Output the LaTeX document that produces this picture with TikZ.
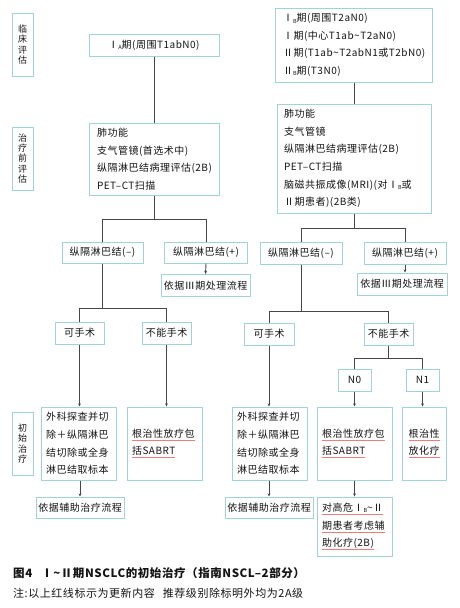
\documentclass[tikz,border=0pt]{standalone}
\usepackage{fontspec}
\setmainfont{Noto Sans CJK SC}[LetterSpace=5]
\usetikzlibrary{arrows.meta}
\definecolor{boxc}{RGB}{160,211,213}
\definecolor{linec}{RGB}{70,70,70}
\definecolor{txtc}{RGB}{20,20,20}
\definecolor{ulred}{RGB}{236,125,125}
\newcommand\sbs[1]{\raisebox{-0.25ex}{\fontsize{5.5}{5.5}\selectfont #1}}
\newcommand\rul[1]{\leavevmode\setbox0\hbox{#1}\rlap{\textcolor{ulred}{\rule[-3.2pt]{\wd0}{0.7pt}}}\box0}
\newcommand\tld{\textasciitilde}
\begin{document}
\begin{tikzpicture}[x=1pt,y=-1pt,
  bx/.style={draw=boxc,line width=1pt,fill=white,text=txtc,inner sep=0pt,
    font=\fontsize{10}{17.6}\selectfont,align=center},
  lbl/.style={bx,minimum width=21,font=\fontsize{9}{10.2}\selectfont},
  conn/.style={draw=linec,line width=0.9pt},
  arr/.style={conn,-{Stealth[length=3.2pt,width=2.8pt]}}]
\useasboundingbox (0,0) rectangle (459,608);

% side labels
\node[lbl,minimum height=63] (la) at (22.5,44.5) {临\\床\\评\\估};
\node[lbl,minimum height=63] (lb) at (22.5,158.5) {治\\疗\\前\\评\\估};
\node[lbl,minimum height=63] (lc) at (22.5,443.5) {初\\始\\治\\疗};

% left column
\node[bx,minimum width=130,minimum height=22] (L1) at (154,45) {Ⅰ\sbs{A}期(周围T1abN0)};
\node[bx,text width=114,inner xsep=8,minimum height=72,align=left] (Lpre) at (154,159)
  {肺功能\\支气管镜(首选术中)\\纵隔淋巴结病理评估(2B)\\PET–CT扫描};
\node[bx,minimum width=81,minimum height=21] (LNm) at (102.5,252.5) {纵隔淋巴结(–)};
\node[bx,minimum width=83,minimum height=21] (LNp) at (206,252.5) {纵隔淋巴结(+)};
\node[bx,minimum width=89,minimum height=22] (LIII) at (205.5,285.5) {依据Ⅲ期处理流程};
\node[bx,minimum width=49,minimum height=22] (LOk) at (79.5,333) {可手术};
\node[bx,minimum width=49,minimum height=22] (LNo) at (166.5,333) {不能手术};
\node[bx,text width=65,inner xsep=5,minimum height=73,align=left] (LSurg) at (78.5,443.5)
  {外科探查并切\\除＋纵隔淋巴\\结切除或全身\\淋巴结取标本};
\node[bx,text width=65,inner xsep=5,minimum height=73,align=left] (LRad) at (164.5,443.5)
  {\rul{根治性放疗包}\\\rul{括SABRT}};
\node[bx,minimum width=88,minimum height=21] (LAdj) at (80,507.5) {依据辅助治疗流程};

% right column
\node[bx,text width=141,inner xsep=8,minimum height=74,align=left] (R1) at (353.5,45)
  {Ⅰ\sbs{B}期(周围T2aN0)\\Ⅰ期(中心T1ab\tld T2aN0)\\Ⅱ期(T1ab\tld T2abN1或T2bN0)\\Ⅱ\sbs{B}期(T3N0)};
\node[bx,text width=140,inner xsep=7,minimum height=109,align=left] (Rpre) at (354,158.5)
  {肺功能\\支气管镜\\纵隔淋巴结病理评估(2B)\\PET–CT扫描\\脑磁共振成像(MRI)(对Ⅰ\sbs{B}或\\Ⅱ期患者)(2B类)};
\node[bx,minimum width=82,minimum height=22] (RNm) at (301,253) {纵隔淋巴结(–)};
\node[bx,minimum width=82,minimum height=22] (RNp) at (405,253) {纵隔淋巴结(+)};
\node[bx,minimum width=90,minimum height=22] (RIII) at (402,284) {依据Ⅲ期处理流程};
\node[bx,minimum width=50,minimum height=22] (ROk) at (269,334) {可手术};
\node[bx,minimum width=49,minimum height=22] (RNo) at (388.5,334) {不能手术};
\node[bx,minimum width=33,minimum height=22] (N0) at (354.5,380) {N0};
\node[bx,minimum width=33,minimum height=22] (N1) at (422.5,380) {N1};
\node[bx,text width=65,inner xsep=5,minimum height=73,align=left] (RSurg) at (269.5,443.5)
  {外科探查并切\\除＋纵隔淋巴\\结切除或全身\\淋巴结取标本};
\node[bx,text width=65,inner xsep=5,minimum height=73,align=left] (RRad) at (354.5,443.5)
  {\rul{根治性放疗包}\\\rul{括SABRT}};
\node[bx,minimum width=44,minimum height=73] (RChem) at (424,443.5)
  {\rul{根治性}\\\rul{放化疗}};
\node[bx,minimum width=88,minimum height=21] (RAdj) at (269,507.5) {依据辅助治疗流程};
\node[bx,text width=65,inner xsep=5,minimum height=59,align=left] (RHigh) at (354.5,526.5)
  {\rul{对高危Ⅰ\sbs{B}\tld Ⅱ}\\\rul{期患者考虑辅}\\\rul{助化疗(2B)}};

% connectors left
\coordinate (b1) at (154,219);
\coordinate (b2) at (102.5,308);
\draw[conn] (L1.south) -- (Lpre.north);
\draw[conn] (Lpre.south) -- (b1) -| (LNm.north);
\draw[conn] (b1) -| (LNp.north);
\draw[arr] (LNp.south) -- (LIII.north);
\draw[conn] (LNm.south) -- (b2) -| (LOk.north);
\draw[conn] (b2) -| (LNo.north);
\draw[arr] (LOk.south) -- (LOk.south |- LSurg.north);
\draw[arr] (LNo.south) -- (LNo.south |- LRad.north);
\draw[arr] (LSurg.south -| LAdj.north) -- (LAdj.north);

% connectors right
\coordinate (c1) at (354,228);
\coordinate (c2) at (301,311);
\coordinate (c3) at (388.5,358);
\draw[conn] (R1.south -| Rpre.north) -- (Rpre.north);
\draw[conn] (Rpre.south) -- (c1) -| (RNm.north);
\draw[conn] (c1) -| (RNp.north);
\draw[arr] (RNp.south) -- (RNp.south |- RIII.north);
\draw[conn] (RNm.south) -- (c2) -| (ROk.north);
\draw[conn] (c2) -| (RNo.north);
\draw[conn] (RNo.south) -- (c3) -| (N0.north);
\draw[conn] (c3) -| (N1.north);
\draw[arr] (ROk.south) -- (ROk.south |- RSurg.north);
\draw[arr] (N0.south) -- (RRad.north);
\draw[arr] (N1.south) -- (N1.south |- RChem.north);
\draw[arr] (RSurg.south -| RAdj.north) -- (RAdj.north);
\draw[arr] (RRad.south) -- (RHigh.north);

% caption
\node[anchor=west,inner sep=0pt,text=txtc,font=\fontsize{11.5}{13}\selectfont\bfseries] (cap) at (13,573)
  {图4\hspace{9pt}Ⅰ\tld Ⅱ期NSCLC的初始治疗（指南NSCL–2部分）};
\node[anchor=west,inner sep=0pt,text=txtc,font=\fontsize{11}{12}\selectfont] (note) at (13,593)
  {注:以上红线标示为更新内容\hspace{8pt}推荐级别除标明外均为2A级};
\end{tikzpicture}
\end{document}
